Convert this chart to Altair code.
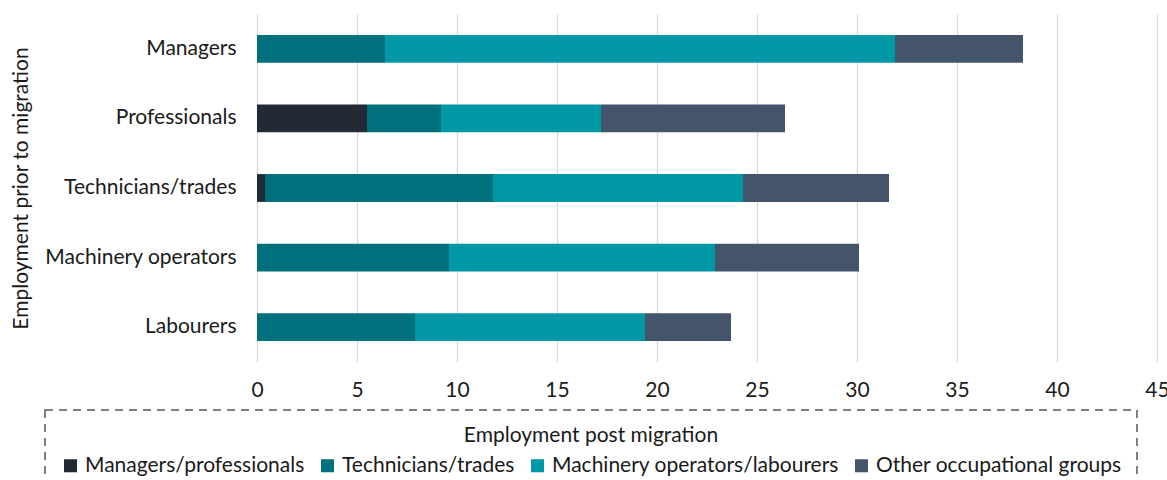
import altair as alt
import pandas as pd

prior = ["Managers", "Professionals", "Technicians/trades", "Machinery operators", "Labourers"]
groups = ["Managers/professionals", "Technicians/trades", "Machinery operators/labourers", "Other occupational groups"]
mgr_prof = [0.0, 5.5, 0.4, 0.0, 0.0]
tech = [6.4, 3.7, 11.4, 9.6, 7.9]
mach = [25.5, 8.0, 12.5, 13.3, 11.5]
other = [6.4, 9.2, 7.3, 7.2, 4.3]
colors = ["#222A35", "#00717C", "#0097A7", "#44546A"]
x_ticks = [0, 5, 10, 15, 20, 25, 30, 35, 40, 45]

rows = []
for i, c in enumerate(prior):
    for j, (g, vals) in enumerate(zip(groups, [mgr_prof, tech, mach, other])):
        rows.append({"prior": c, "post": g, "value": vals[i], "order": j})
df = pd.DataFrame(rows)

FONT = "Lato"
TXT = "#1a1a1a"
FS = 21

chart = alt.Chart(df).mark_bar().encode(
    x=alt.X("value:Q", stack="zero",
            scale=alt.Scale(domain=[0, 45], nice=False),
            axis=alt.Axis(values=x_ticks, title=None, grid=True, gridColor="#d9d9d9",
                          gridWidth=1.3, domain=False, ticks=False, labelPadding=17,
                          labelFlush=False,
                          labelFontSize=FS, labelFont=FONT, labelColor=TXT)),
    y=alt.Y("prior:N", sort=prior,
            scale=alt.Scale(paddingInner=0.6, paddingOuter=0.3),
            axis=alt.Axis(title="Employment prior to migration", grid=False, domain=False,
                          ticks=False, labelPadding=21, labelFontSize=FS, labelFont=FONT,
                          labelColor=TXT, titleFontSize=FS, titleFont=FONT, titleColor=TXT,
                          titleFontWeight="normal", titleX=-236, titleY=174,
                          titleAngle=270, titleAlign="center", titleBaseline="middle",
                          labelLimit=400)),
    color=alt.Color("post:N", sort=groups,
                    scale=alt.Scale(domain=groups, range=colors),
                    legend=alt.Legend(title="Employment post migration", orient="none",
                                      legendX=-212, legendY=396, direction="horizontal",
                                      titleAnchor="middle", titleFontSize=FS, titleFont=FONT,
                                      titleFontWeight="normal", titleColor=TXT, titlePadding=9,
                                      titleLimit=800,
                                      labelFontSize=FS, labelFont=FONT, labelColor=TXT,
                                      labelLimit=400, symbolType="square", symbolSize=170,
                                      symbolStrokeWidth=0, columnPadding=12, padding=15,
                                      strokeColor="#808080")),
    order=alt.Order("order:Q"),
).properties(
    width=900, height=348,
    autosize=alt.AutoSizeParams(type="none"),
    padding={"left": 257, "top": 14, "right": 10, "bottom": 118},
).configure_view(stroke=None).configure_legend(strokeDash=[8, 6], strokeWidth=2)

chart.save("out.html", embed_options={"renderer": "svg", "actions": False})
